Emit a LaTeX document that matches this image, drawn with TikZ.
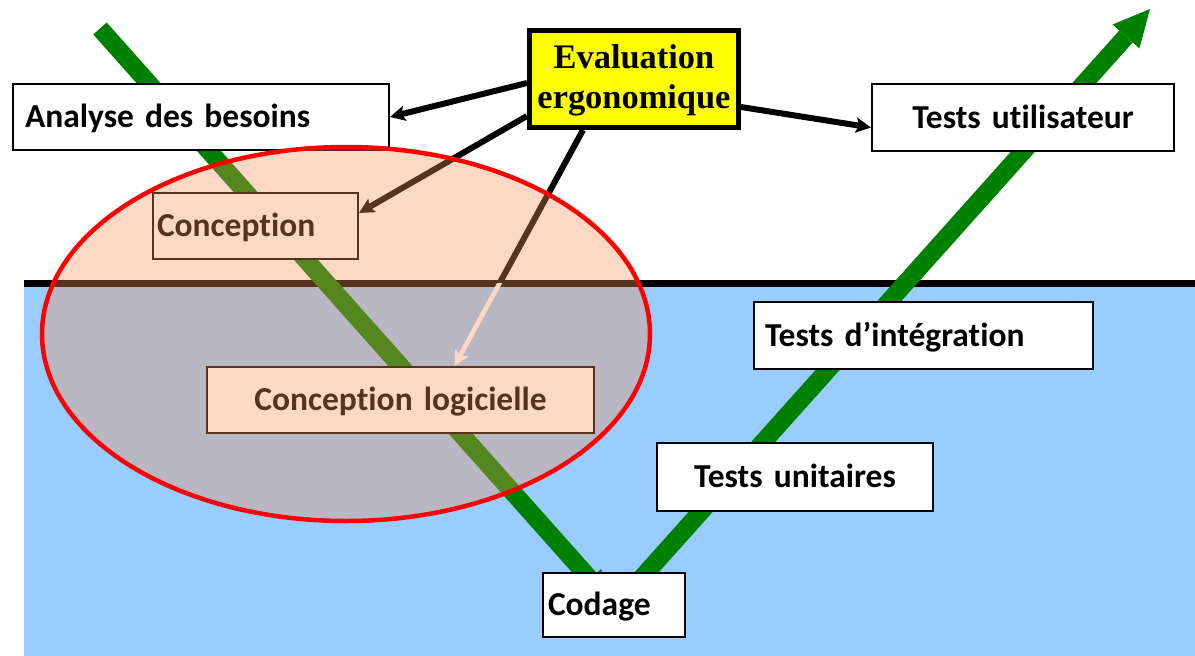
\documentclass[tikz,border=0pt]{standalone}
\usepackage{fontspec}
\newfontfamily\boxfont{Carlito}[Ligatures=NoCommon]
\newfontfamily\evalfont{Liberation Serif}
\usetikzlibrary{arrows.meta,calc}
\definecolor{vblue}{HTML}{99CCFF}
\definecolor{vgreen}{HTML}{008000}
\definecolor{overlaycol}{RGB}{249,146,89}
\definecolor{evalyellow}{HTML}{FFFF00}
\begin{document}
\begin{tikzpicture}[x=1pt,y=-1pt,
  box/.style={draw=black, line width=2pt, fill=white,
    font=\boxfont\bfseries\fontsize{33.5}{40}\selectfont,
    text height=27pt, text depth=6pt, inner ysep=0pt},
  leftbox/.style args={#1/#2/#3}{box, minimum width=#1, minimum height=#2,
    inner xsep=#3, text width=#1-2*#3, align=left},
  midbox/.style args={#1/#2}{box, minimum width=#1, minimum height=#2,
    inner xsep=4pt, text width=#1-8, align=center},
  evalbox/.style={draw=black, line width=5pt, fill=evalyellow,
    font=\evalfont\bfseries\fontsize{34.4}{40}\selectfont, align=center,
    minimum width=209, minimum height=97, text height=66pt, text depth=8pt, inner sep=0pt},
  earrow/.style={line width=6pt, -{Stealth[length=15pt,width=15pt,inset=3pt]}},
  varm/.style={vgreen, line width=18pt}
]
\useasboundingbox (0,0) rectangle (1195,656);
\fill[white] (0,0) rectangle (1195,656);
% lower (software) zone
\fill[vblue] (24,283) rectangle (1195,656);
\draw[line width=7pt] (24,283.5) -- (1195,283.5);

% V cycle
\coordinate (vstart) at (100,28.5);
\coordinate (vleftend) at (590,579);
\coordinate (vrightstart) at (633,587.5);
\coordinate (vrightend) at (1126,36.5);
\draw[varm] (vstart) -- (vleftend);
\fill[vgreen] (601.2,569) -- (610,601) -- (578.8,589) -- cycle;
\draw[varm] (vrightstart) -- (vrightend);
\fill[vgreen] (1150,9) -- (1112.6,24.5) -- (1139.4,48.5) -- cycle;

% boxes
\node[leftbox=376/66/12] (analyse) at (201,117) {Analyse des besoins};
\node[leftbox=205/66/4] (concep) at (255.5,226) {Conception};
\node[midbox=387/66] (cl) at (400.5,400) {Conception logicielle};
\node[midbox=302/67] (tu) at (1023,117.5) {Tests utilisateur};
\node[leftbox=339/67/11] (ti) at (923.5,335.5) {Tests d’intégration};
\node[midbox=276/68] (tun) at (795,477) {Tests unitaires};
\node[leftbox=142/64/5] (codage) at (614,605) {Codage};

\node[evalbox] (eval) at (634,79) {Evaluation\\ergonomique};

% evaluation arrows
\draw[earrow] ($(eval.west)+(0,4)$) -- (analyse.east);
\draw[earrow] ($(eval.south west)+(0,-14)$) -- ($(concep.east)+(0,-13)$);
\draw[earrow] ($(eval.east)+(0,28)$) -- ($(tu.west)+(0,10)$);
\begin{scope}
  \clip (0,0) rectangle (1195,283);
  \draw[earrow] ($(eval.south)+(-51,0)$) -- ($(cl.north)+(54,0)$);
\end{scope}
\begin{scope}
  \clip (0,283) rectangle (1195,656);
  \draw[earrow, white, line width=4.5pt] ($(eval.south)+(-51,0)$) -- ($(cl.north)+(54,0)$);
\end{scope}

% ergonomic zone
\fill[overlaycol, fill opacity=0.35] (346,334) ellipse [x radius=304, y radius=187];
\draw[red, line width=4.5pt] (346,334) ellipse [x radius=304, y radius=187];
\end{tikzpicture}
\end{document}
